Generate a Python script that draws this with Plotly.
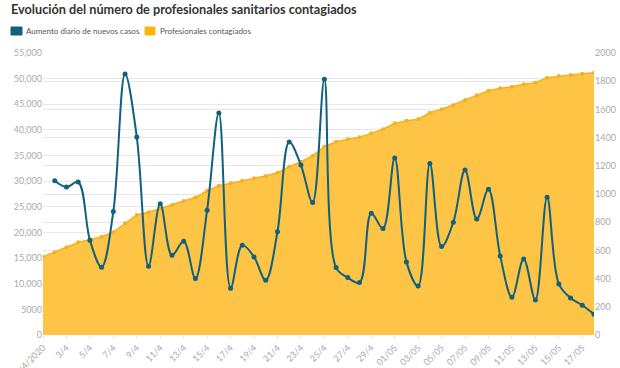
import plotly.graph_objects as go

# ---- data ----
dates = ["1/4/2020"] + [f"{d}/4" for d in range(2, 31)] + [f"{d:02d}/05" for d in range(1, 19)]

nuevos_casos = [None, 30080, 28850, 29830, 18500, 13220, 24090, 50900, 38600, 13400,
                25590, 15560, 18300, 11000, 24350, 43300, 9120, 17520, 15230, 10680,
                20120, 37640, 33140, 25840, 49870, 13150, 11200, 10220, 23760, 20770,
                34510, 14260, 9570, 33460, 17250, 22000, 32160, 22600, 28450, 15430,
                7360, 14840, 6840, 26890, 9960, 7230, 5800, 4040]

profesionales = [555, 587, 622, 657, 679, 697, 729, 792, 851, 870,
                 898, 922, 950, 975, 1023, 1059, 1076, 1094, 1111, 1128,
                 1151, 1194, 1229, 1270, 1336, 1370, 1388, 1402, 1430, 1459,
                 1501, 1520, 1530, 1577, 1601, 1631, 1667, 1700, 1733, 1750,
                 1761, 1778, 1789, 1825, 1837, 1844, 1853, 1860]

left_ticks = [0, 5000, 10000, 15000, 20000, 25000, 30000, 35000, 40000, 45000, 50000, 55000]
left_labels = ["0", "5000", "10,000", "15,000", "20,000", "25,000", "30,000",
               "35,000", "40,000", "45,000", "50,000", "55,000"]
right_ticks = [0, 200, 400, 600, 800, 1000, 1200, 1400, 1600, 1800, 2000]

title = "Evolución del número de profesionales sanitarios contagiados"
legend_names = ["Aumento diario de nuevos casos", "Profesionales contagiados"]

BLUE = "#10607e"
ORANGE = "#f5b020"
FILL = "#fdc445"
FONT = "Lato"

fig = go.Figure()
fig.add_trace(go.Scatter(
    x=dates, y=profesionales, yaxis="y", mode="lines+markers",
    line=dict(color=ORANGE, width=1.5), marker=dict(color=ORANGE, size=4),
    fill="tozeroy", fillcolor=FILL, name=legend_names[1], showlegend=False))
fig.add_trace(go.Scatter(
    x=dates, y=nuevos_casos, yaxis="y2", mode="lines+markers",
    line=dict(color=BLUE, width=2, shape="spline", smoothing=1.0),
    marker=dict(color=BLUE, size=5), name=legend_names[0], showlegend=False,
    connectgaps=False))

W, H = 620, 368
L, R, T, B = 43, 26, 53, 33
pw, ph = W - L - R, H - T - B


def px(x):
    return (x - L) / pw


def py(y):
    return (H - B - y) / ph


fig.update_layout(
    width=W, height=H,
    margin=dict(l=L, r=R, t=T, b=B, autoexpand=False),
    paper_bgcolor="white", plot_bgcolor="white",
    font=dict(family=FONT, color="#666666", size=9),
    title=dict(text=title, x=11 / W, xref="container", xanchor="left",
               y=1 - 10 / H, yref="container", yanchor="middle",
               font=dict(family=FONT, size=12.7, color="#333333", weight=700)),
    xaxis=dict(type="category", range=[0, len(dates) - 1], automargin=False,
               tickmode="array", tickvals=dates[::2], ticktext=dates[::2],
               tickangle=-45, tickfont=dict(size=9, color="#aaaaaa"),
               showgrid=False, showline=False, zeroline=False,
               ticks="outside", ticklen=3, tickcolor="#e6e6e6"),
    yaxis=dict(side="right", range=[0, 2000], tickvals=right_ticks, automargin=False,
               tickfont=dict(size=9, color="#aaaaaa"),
               showgrid=True, gridcolor="#e8e8e8", gridwidth=1,
               zeroline=False, showline=False),
    yaxis2=dict(side="left", overlaying="y", range=[0, 55000], automargin=False,
                tickvals=left_ticks, ticktext=left_labels,
                tickfont=dict(size=9, color="#aaaaaa"),
                showgrid=True, gridcolor="#e8e8e8", gridwidth=1,
                zeroline=False, showline=False),
    showlegend=False,
)

# custom legend (rounded swatches + text)
swatches = [(11, 22, BLUE, legend_names[0], 24), (145, 155, "#f9b60f", legend_names[1], 158)]
for x0, x1, col, name, tx in swatches:
    fig.add_shape(type="rect", xref="paper", yref="paper",
                  x0=px(x0), x1=px(x1), y0=py(35), y1=py(27),
                  fillcolor=col, line=dict(color=col, width=1), layer="above")
    fig.add_annotation(text=name, xref="paper", yref="paper", x=px(tx), y=py(31),
                       xanchor="left", yanchor="middle", showarrow=False,
                       font=dict(family=FONT, size=8, color="#555555"))

fig.write_html("out.html", config={"displayModeBar": False},
               post_script="document.body.style.margin='0';document.body.style.overflow='hidden';")
